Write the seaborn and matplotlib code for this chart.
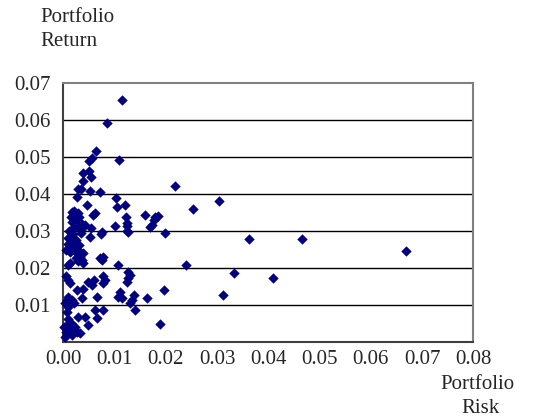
import numpy as np
import seaborn as sns
import matplotlib.pyplot as plt

# portfolio risk (x) and return (y)
risk = [0.0115, 0.0085, 0.0063, 0.0051, 0.0056, 0.0109, 0.0039, 0.0051, 0.0054, 0.0038,
        0.0035, 0.0029, 0.0053, 0.0072, 0.0027, 0.0046, 0.0102, 0.0104, 0.0121, 0.0023,
        0.0029, 0.0021, 0.0030, 0.0061, 0.0058, 0.0122, 0.0160, 0.0179, 0.0184, 0.0176,
        0.0173, 0.0169, 0.0217, 0.0021, 0.0026, 0.0016, 0.0021, 0.0036, 0.0042, 0.0054,
        0.0075, 0.0074, 0.0052, 0.0101, 0.0125, 0.0124, 0.0126, 0.0124, 0.0199, 0.0009,
        0.0015, 0.0009, 0.0017, 0.0005, 0.0013, 0.0021, 0.0020, 0.0029, 0.0039, 0.0033,
        0.0036, 0.0039, 0.0072, 0.0078, 0.0075, 0.0013, 0.0010, 0.0107, 0.0005, 0.0010,
        0.0013, 0.0049, 0.0059, 0.0055, 0.0078, 0.0081, 0.0078, 0.0127, 0.0130, 0.0126,
        0.0124, 0.0026, 0.0039, 0.0036, 0.0065, 0.0010, 0.0007, 0.0003, 0.0010, 0.0007,
        0.0016, 0.0020, 0.0111, 0.0107, 0.0114, 0.0137, 0.0134, 0.0130, 0.0140, 0.0163,
        0.0197, 0.0062, 0.0078, 0.0065, 0.0029, 0.0042, 0.0049, 0.0002, 0.0007, 0.0013,
        0.0020, 0.0026, 0.0033, 0.0016, 0.0003, 0.0189, 0.0253, 0.0303, 0.0363, 0.0465,
        0.0669, 0.0240, 0.0333, 0.0409, 0.0312, 0.0012, 0.0018, 0.0013, 0.0025, 0.0030,
        0.0026, 0.0031, 0.0024, 0.0028, 0.0034, 0.0030, 0.0035, 0.0015, 0.0017, 0.0010,
        0.0015, 0.0022, 0.0005]
ret = [0.0652, 0.0592, 0.0515, 0.0489, 0.0496, 0.0490, 0.0455, 0.0462, 0.0446, 0.0435,
       0.0414, 0.0412, 0.0407, 0.0405, 0.0392, 0.0370, 0.0388, 0.0365, 0.0369, 0.0349,
       0.0348, 0.0345, 0.0338, 0.0347, 0.0342, 0.0336, 0.0343, 0.0337, 0.0341, 0.0329,
       0.0315, 0.0311, 0.0420, 0.0354, 0.0329, 0.0324, 0.0311, 0.0318, 0.0315, 0.0307,
       0.0297, 0.0290, 0.0284, 0.0313, 0.0313, 0.0300, 0.0296, 0.0320, 0.0294, 0.0280,
       0.0272, 0.0264, 0.0256, 0.0248, 0.0243, 0.0261, 0.0248, 0.0248, 0.0239, 0.0230,
       0.0221, 0.0212, 0.0225, 0.0230, 0.0221, 0.0212, 0.0207, 0.0207, 0.0178, 0.0167,
       0.0158, 0.0162, 0.0167, 0.0153, 0.0178, 0.0167, 0.0158, 0.0189, 0.0180, 0.0171,
       0.0162, 0.0140, 0.0142, 0.0117, 0.0122, 0.0122, 0.0113, 0.0104, 0.0095, 0.0081,
       0.0113, 0.0104, 0.0135, 0.0122, 0.0117, 0.0126, 0.0113, 0.0104, 0.0086, 0.0117,
       0.0140, 0.0086, 0.0086, 0.0063, 0.0068, 0.0068, 0.0045, 0.0041, 0.0045, 0.0036,
       0.0032, 0.0027, 0.0023, 0.0018, 0.0014, 0.0048, 0.0359, 0.0379, 0.0277, 0.0278,
       0.0245, 0.0208, 0.0185, 0.0171, 0.0127, 0.0300, 0.0290, 0.0282, 0.0275, 0.0262,
       0.0240, 0.0232, 0.0225, 0.0218, 0.0302, 0.0310, 0.0295, 0.0337, 0.0350, 0.0060,
       0.0050, 0.0040, 0.0025]

x_ticks = [0.00, 0.01, 0.02, 0.03, 0.04, 0.05, 0.06, 0.07, 0.08]
y_ticks = [0.01, 0.02, 0.03, 0.04, 0.05, 0.06, 0.07]

sns.set_style('white')
plt.rcParams['font.family'] = ['Liberation Serif', 'DejaVu Serif']

fig = plt.figure(figsize=(5.33, 4.19), dpi=100)
ax = fig.add_axes([0.1188, 0.1845, 0.7692, 0.6181])

for t in y_ticks[:-1]:
    ax.axhline(t, color='black', lw=1.0, zorder=0)

sns.scatterplot(x=risk, y=ret, marker='D', s=28, color='#000080',
                linewidth=0, ax=ax, zorder=3, clip_on=False)

ax.set_xlim(0, 0.08)
ax.set_ylim(0, 0.07)
ax.set_xticks(x_ticks)
ax.set_xticklabels(['%.2f' % v for v in x_ticks])
ax.set_yticks(y_ticks)
ax.set_yticklabels(['%.2f' % v for v in y_ticks])
ax.tick_params(axis='x', direction='in', length=4, width=1, color='#404040',
               labelsize=15, pad=6)
ax.tick_params(axis='y', direction='out', length=3, width=1, color='#404040',
               labelsize=15, pad=6)

for side in ['left', 'bottom']:
    ax.spines[side].set_color('#404040')
    ax.spines[side].set_linewidth(1.5)
for side in ['top', 'right']:
    ax.spines[side].set_color('#808080')
    ax.spines[side].set_linewidth(1.5)

# axis titles sit outside the plot, as in a spreadsheet chart
fig.text(40 / 533, 1 - 18 / 419, 'Portfolio', ha='left', va='center', fontsize=15)
fig.text(40 / 533, 1 - 42 / 419, 'Return', ha='left', va='center', fontsize=15)
fig.text(477 / 533, 1 - 384 / 419, 'Portfolio', ha='center', va='center', fontsize=15)
fig.text(481 / 533, 1 - 408 / 419, 'Risk', ha='center', va='center', fontsize=15)

plt.savefig('out.png', dpi=100)
